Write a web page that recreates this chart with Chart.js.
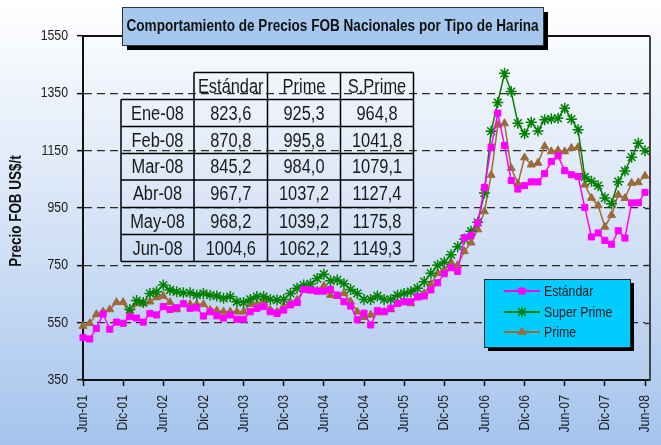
<!DOCTYPE html>
<html>
<head>
<meta charset="utf-8">
<script src="https://cdn.jsdelivr.net/npm/chart.js@4.4.1/dist/chart.umd.min.js"></script>
<style>
  html, body { margin: 0; padding: 0; background: #fff; }
  canvas { display: block; }
</style>
</head>
<body>
<canvas id="chart" width="661" height="445"></canvas>
<script>
// monthly categories Jun-01 .. Jun-08
const months = [
  "Jun-01","Jul-01","Ago-01","Sep-01","Oct-01","Nov-01","Dic-01",
  "Ene-02","Feb-02","Mar-02","Abr-02","May-02","Jun-02","Jul-02","Ago-02","Sep-02","Oct-02","Nov-02","Dic-02",
  "Ene-03","Feb-03","Mar-03","Abr-03","May-03","Jun-03","Jul-03","Ago-03","Sep-03","Oct-03","Nov-03","Dic-03",
  "Ene-04","Feb-04","Mar-04","Abr-04","May-04","Jun-04","Jul-04","Ago-04","Sep-04","Oct-04","Nov-04","Dic-04",
  "Ene-05","Feb-05","Mar-05","Abr-05","May-05","Jun-05","Jul-05","Ago-05","Sep-05","Oct-05","Nov-05","Dic-05",
  "Ene-06","Feb-06","Mar-06","Abr-06","May-06","Jun-06","Jul-06","Ago-06","Sep-06","Oct-06","Nov-06","Dic-06",
  "Ene-07","Feb-07","Mar-07","Abr-07","May-07","Jun-07","Jul-07","Ago-07","Sep-07","Oct-07","Nov-07","Dic-07",
  "Ene-08","Feb-08","Mar-08","Abr-08","May-08","Jun-08"
];

const estandar = [
  498, 493, 530, 580, 527, 552, 548,
  571, 566, 552, 582, 577, 606, 596, 602, 616, 600, 602, 573,
  588, 574, 566, 577, 562, 562, 588, 600, 606, 588, 582, 594,
  612, 620, 666, 664, 660, 660, 666, 646, 623, 608, 560, 583,
  542, 592, 588, 600, 617, 623, 623, 640, 643, 664, 689, 721,
  742, 729, 846, 854, 898, 1022, 1162, 1281, 1168, 1046, 1016, 1028,
  1041, 1041, 1070, 1112, 1132, 1080, 1066, 1060, 952, 849, 863, 837,
  823.6, 870.8, 845.2, 967.7, 968.2, 1004.6
];

const superPrime = [
  null, null, null, null, null, null, null,
  596, 627, 620, 652, 658, 681, 664, 658, 654, 654, 646, 652,
  646, 643, 635, 641, 623, 620, 631, 641, 641, 631, 629, 631,
  652, 670, 681, 685, 704, 719, 696, 699, 686, 666, 652, 631,
  631, 643, 631, 631, 646, 652, 658, 670, 693, 722, 750, 761,
  787, 815, 842, 869, 900, 1002, 1218, 1318, 1420, 1356, 1246, 1209,
  1249, 1219, 1258, 1261, 1263, 1298, 1260, 1223, 1058, 1043, 1028, 985,
  964.8, 1041.8, 1079.1, 1127.4, 1175.8, 1149.3
];

const prime = [
  538, 548, 579, 588, 596, 621, 621,
  573, 617, 617, 623, 638, 643, 621, 596, 614, 614, 614, 614,
  594, 592, 588, 588, 588, 588, 614, 614, 629, 594, 588, 608,
  620, 629, 665, 662, 662, 678, 646, 643, 652, 623, 588, 569,
  577, 585, 588, 596, 617, 623, 617, 638, 652, 685, 722, 735,
  760, 750, 799, 829, 875, 938, 1065, 1240, 1245, 1089, 1035, 1126,
  1101, 1107, 1165, 1147, 1151, 1147, 1159, 1162, 1031, 985, 959, 884,
  925.3, 995.8, 984.0, 1037.2, 1039.2, 1062.2
];

const yTicks = [350, 550, 750, 950, 1150, 1350, 1550];

const FONT = '"Liberation Sans", Arial, sans-serif';
const SQUEEZE = 0.82; // mimic a narrow face
const TITLE = "Comportamiento de Precios FOB Nacionales por Tipo de Harina";
const Y_TITLE = "Precio FOB US$/t";

// table shows the last six months of each series
const tableRows = 6;
const fmt = v => v.toFixed(1).replace(".", ",");

function narrowText(ctx, text, x, y, opts) {
  const o = Object.assign({ align: "center", size: 15, weight: "", rot: 0, sx: SQUEEZE, color: "#1a1a1a" }, opts);
  ctx.save();
  ctx.translate(x, y);
  if (o.rot) ctx.rotate(o.rot);
  ctx.scale(o.sx, 1);
  ctx.font = (o.weight ? o.weight + " " : "") + o.size + "px " + FONT;
  ctx.fillStyle = o.color;
  ctx.textAlign = o.align;
  ctx.textBaseline = "middle";
  ctx.fillText(text, 0, 0);
  ctx.restore();
}

const bgPlugin = {
  id: "bg",
  beforeDraw(chart) {
    const { ctx, width, height } = chart;
    const g = ctx.createLinearGradient(0, 0, 0, height);
    g.addColorStop(0, "#ffffff");
    g.addColorStop(0.45, "#dae6f7");
    g.addColorStop(1, "#a5c4ed");
    ctx.save();
    ctx.fillStyle = g;
    ctx.fillRect(0, 0, width, height);
    ctx.restore();
  }
};

const FRAME_RIGHT = 650;

const frameAndLabels = {
  id: "frame",
  beforeDatasetsDraw(chart) {
    const { ctx, chartArea: a, scales } = chart;
    ctx.save();
    ctx.lineWidth = 2;
    ctx.strokeStyle = "#111";
    ctx.beginPath();
    ctx.moveTo(a.left, a.top);
    ctx.lineTo(FRAME_RIGHT, a.top);
    ctx.moveTo(a.right, a.bottom);
    ctx.lineTo(FRAME_RIGHT, a.bottom);
    ctx.stroke();
    // dashed grid continues to the frame
    ctx.lineWidth = 1.3;
    ctx.strokeStyle = "#2b2b2b";
    ctx.setLineDash([8, 5]);
    ctx.beginPath();
    yTicks.slice(1, -1).forEach(v => {
      const y = Math.round(scales.y.getPixelForValue(v)) + 0.5;
      ctx.moveTo(a.right, y);
      ctx.lineTo(FRAME_RIGHT, y);
    });
    ctx.stroke();
    ctx.setLineDash([]);
    ctx.lineWidth = 2;
    ctx.strokeStyle = "#444";
    ctx.beginPath();
    ctx.moveTo(FRAME_RIGHT, a.top);
    ctx.lineTo(FRAME_RIGHT, a.bottom + 1);
    ctx.stroke();
    ctx.restore();

    // axis labels, placed through the chart scales
    yTicks.forEach(v => {
      narrowText(ctx, String(v), a.left - 15, scales.y.getPixelForValue(v), { align: "right", size: 15 });
    });
    months.forEach((m, i) => {
      if (i % 6 !== 0) return;
      narrowText(ctx, m, scales.x.getPixelForValue(i), a.bottom + 15, { align: "right", size: 15, rot: -Math.PI / 2 });
    });
    narrowText(ctx, Y_TITLE, 17, (a.top + a.bottom) / 2 + 3, { size: 16, weight: "bold", rot: -Math.PI / 2, sx: 0.84, color: "#111" });
  }
};

const tablePlugin = {
  id: "table",
  afterDatasetsDraw(chart) {
    const { ctx } = chart;
    const cols = [121, 194, 267.5, 340.5, 413.5];
    const rows = [99.5, 126.5, 153.5, 180, 207.5, 234.5, 261.5];
    const headTop = 72.5;
    const n = months.length;
    ctx.save();
    ctx.strokeStyle = "#000";
    ctx.lineWidth = 1.5;
    ctx.beginPath();
    ctx.moveTo(cols[1], headTop); ctx.lineTo(cols[4], headTop);
    for (let c = 1; c < 5; c++) { ctx.moveTo(cols[c], headTop); ctx.lineTo(cols[c], rows[0]); }
    for (const r of rows) { ctx.moveTo(cols[0], r); ctx.lineTo(cols[4], r); }
    for (const c of cols) { ctx.moveTo(c, rows[0]); ctx.lineTo(c, rows[6]); }
    ctx.stroke();
    ctx.restore();

    const heads = ["Estándar", "Prime", "S.Prime"];
    heads.forEach((h, i) => narrowText(ctx, h, (cols[i + 1] + cols[i + 2]) / 2, (headTop + rows[0]) / 2 + 1, { size: 20 }));
    for (let r = 0; r < tableRows; r++) {
      const k = n - tableRows + r;
      const y = (rows[r] + rows[r + 1]) / 2 + 1;
      const vals = [months[k], fmt(estandar[k]), fmt(prime[k]), fmt(superPrime[k])];
      vals.forEach((v, i) => narrowText(ctx, v, (cols[i] + cols[i + 1]) / 2, y, { size: 20 }));
    }
  }
};

const boxesPlugin = {
  id: "boxes",
  afterDraw(chart) {
    const { ctx } = chart;
    ctx.save();
    // title box
    const tb = { x: 122, y: 7, w: 421, h: 38 };
    ctx.fillStyle = "#000";
    ctx.fillRect(tb.x + 5, tb.y + 5, tb.w, tb.h);
    ctx.fillStyle = "#a6c8ef";
    ctx.fillRect(tb.x, tb.y, tb.w, tb.h);
    ctx.strokeStyle = "#333";
    ctx.lineWidth = 1;
    ctx.strokeRect(tb.x + 0.5, tb.y + 0.5, tb.w, tb.h);
    ctx.font = "bold 16px " + FONT;
    const tw = ctx.measureText(TITLE).width;
    ctx.restore();
    narrowText(ctx, TITLE, tb.x + tb.w / 2, tb.y + tb.h / 2 + 1, { size: 16, weight: "bold", sx: Math.min(0.86, 412 / tw), color: "#111" });

    // legend box
    ctx.save();
    const lb = { x: 484, y: 279, w: 146, h: 68 };
    ctx.fillStyle = "#000";
    ctx.fillRect(lb.x + 4, lb.y + 4, lb.w, lb.h);
    ctx.fillStyle = "#00ccff";
    ctx.fillRect(lb.x, lb.y, lb.w, lb.h);
    ctx.strokeStyle = "#222";
    ctx.lineWidth = 1;
    ctx.strokeRect(lb.x + 0.5, lb.y + 0.5, lb.w, lb.h);
    const rowsY = [291, 312, 332];
    chart.data.datasets.forEach((ds, i) => {
      const y = rowsY[i];
      ctx.strokeStyle = ds.borderColor;
      ctx.lineWidth = 2;
      ctx.beginPath();
      ctx.moveTo(504, y); ctx.lineTo(540, y);
      ctx.stroke();
      ctx.fillStyle = ds.backgroundColor;
      ctx.strokeStyle = ds.borderColor;
      ctx.lineWidth = ds.pointBorderWidth || 1;
      Chart.helpers.drawPoint(ctx, {
        pointStyle: ds.pointStyle, radius: ds.pointRadius, borderWidth: ds.pointBorderWidth || 1, rotation: 0
      }, 522, y);
      narrowText(ctx, ds.label, 544, y + 1, { align: "left", size: 15 });
    });
    ctx.restore();
  }
};

new Chart(document.getElementById("chart"), {
  type: "line",
  data: {
    labels: months,
    datasets: [
      { label: "Estándar", data: estandar, borderColor: "#ff00ff", backgroundColor: "#ff00ff",
        pointStyle: "rect", pointRadius: 4.3, pointBorderWidth: 1, borderWidth: 1.5 },
      { label: "Super Prime", data: superPrime, borderColor: "#008000", backgroundColor: "#008000",
        pointStyle: "star", pointRadius: 5.5, pointBorderWidth: 1.5, borderWidth: 1.5 },
      { label: "Prime", data: prime, borderColor: "#9c6a3a", backgroundColor: "#9c6a3a",
        pointStyle: "triangle", pointRadius: 4.6, pointBorderWidth: 1, borderWidth: 1.5 }
    ]
  },
  options: {
    responsive: false,
    animation: false,
    layout: { padding: { top: 36, right: 16, left: 0, bottom: 0 } },
    plugins: { legend: { display: false }, tooltip: { enabled: false } },
    scales: {
      x: {
        offset: false,
        grid: {
          drawOnChartArea: false,
          tickLength: 6,
          tickWidth: 1.5,
          tickColor: c => (c.index % 6 === 0 ? "#111" : "rgba(0,0,0,0)")
        },
        border: { color: "#111", width: 2 },
        ticks: { display: false, autoSkip: false },
        afterFit: s => { s.height = 65; }
      },
      y: {
        min: 350, max: 1550,
        afterBuildTicks: s => { s.ticks = yTicks.map(v => ({ value: v })); },
        grid: {
          color: c => (c.tick.value === 350 || c.tick.value === 1550 ? "rgba(0,0,0,0)" : "#2b2b2b"),
          lineWidth: 1.3,
          tickColor: "#111",
          tickLength: 6,
          tickWidth: 1.5
        },
        border: { color: "#111", width: 2, dash: [8, 5] },
        ticks: { display: false },
        afterFit: s => { s.width = 83; }
      }
    }
  },
  plugins: [bgPlugin, frameAndLabels, tablePlugin, boxesPlugin]
});
</script>
</body>
</html>
